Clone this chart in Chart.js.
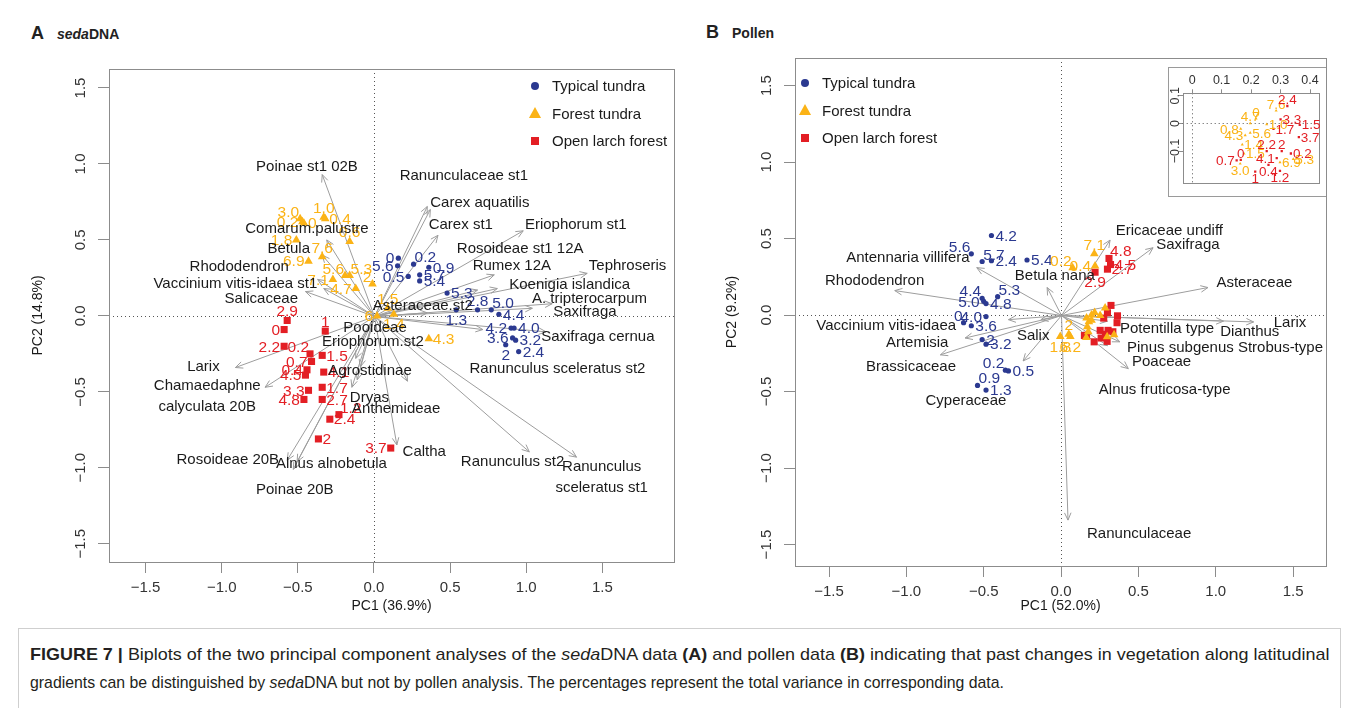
<!DOCTYPE html>
<html>
<head>
<meta charset="utf-8">
<title>Figure 7 - PCA biplots</title>
<script src="https://cdn.jsdelivr.net/npm/chart.js@4.4.1/dist/chart.umd.min.js"></script>
<style>
  body { margin:0; width:1358px; height:708px; background:#fff; position:relative; overflow:hidden;
         font-family:"Liberation Sans", Arial, sans-serif; color:#222; }
  canvas { position:absolute; }
  .ttl { position:absolute; font-weight:bold; white-space:nowrap; line-height:20px; }
  .ttl .big { font-size:18px; display:inline-block; width:26px; }
  .ttl .sub { font-size:14px; }
  #cap { position:absolute; left:18px; top:628px; width:1323px; height:100px; border:1px solid #cfcfcf; box-sizing:border-box; }
  .cl { position:absolute; left:11px; white-space:nowrap; font-size:17px; line-height:19px; transform-origin:0 0; color:#231f20; }
  #inframe { position:absolute; left:1168px; top:67px; width:158px; height:130px; border:1px solid #9a9a9a; border-right:none; background:#fff; box-sizing:border-box; }
</style>
</head>
<body>
<div class="ttl" style="left:31px;top:23px"><span class="big">A</span><span class="sub"><i>seda</i>DNA</span></div>
<div class="ttl" style="left:706px;top:22px"><span class="big">B</span><span class="sub">Pollen</span></div>

<canvas id="cA" width="690" height="620" style="left:0;top:0"></canvas>
<canvas id="cB" width="668" height="620" style="left:690px;top:0"></canvas>
<div id="inframe"></div>
<canvas id="cI" width="164" height="128" style="left:1162px;top:67px"></canvas>

<div id="cap">
  <div class="cl" id="c1" style="top:16px"><b>FIGURE 7 |</b> Biplots of the two principal component analyses of the <i>seda</i>DNA data <b>(A)</b> and pollen data <b>(B)</b> indicating that past changes in vegetation along latitudinal</div>
  <div class="cl" id="c2" style="top:44px">gradients can be distinguished by <i>seda</i>DNA but not by pollen analysis. The percentages represent the total variance in corresponding data.</div>
</div>

<script>
// ---------- shared ----------
const groupNames = ['Typical tundra', 'Forest tundra', 'Open larch forest'];
const axisTicks = [-1.5, -1.0, -0.5, 0, 0.5, 1.0, 1.5];
const insetXTicks = [0, 0.1, 0.2, 0.3, 0.4];
const insetYTicks = [-0.1, 0, 0.1];
// label side codes: 1 below, 2 left, 3 above, 4 right, 5 above-right, 6 above-left

// ---------- A: sedaDNA ----------
const A_xlim = [-1.74, 1.97], A_ylim = [-1.62, 1.625];

const A_tundra_lab = ['0','0.2','0.9','5.6','5.7','0.5','5.4','5.3','1.3','2.8','5.0','4.4','4.2','4.0','3.6','3.2','2','2.4'];
const A_tundra_x = [0.16,0.26,0.36,0.155,0.30,0.225,0.30,0.48,0.54,0.68,0.77,0.82,0.90,0.92,0.91,0.93,0.865,0.95];
const A_tundra_y = [0.38,0.34,0.32,0.33,0.27,0.26,0.23,0.15,0.04,0.04,0.04,0.01,-0.08,-0.08,-0.145,-0.16,-0.19,-0.235];
const A_tundra_pos = [2,5,4,2,4,2,4,4,1,3,5,4,2,4,2,4,1,4];

const A_forest_lab = ['3.0','1.0','0.2','0','0.4','0.6','1.8','7.6','6.9','5.6','5.3','7.1','2','4.7','1.5','6','1.4','4.3'];
const A_forest_x = [-0.485,-0.33,-0.47,-0.46,-0.32,-0.16,-0.51,-0.34,-0.43,-0.19,-0.16,-0.27,-0.01,-0.12,0.09,0.02,0.13,0.36];
const A_forest_y = [0.64,0.65,0.62,0.61,0.64,0.49,0.50,0.39,0.36,0.265,0.265,0.24,0.21,0.18,0.05,0.0,0.01,-0.15];
const A_forest_pos = [6,3,2,4,4,3,2,3,2,6,5,2,6,2,3,2,1,4];

const A_larch_lab = ['2.9','0','1','2.2','0.2','1.5','0.7','0.4','4.1','4.5','1.7','3.3','4.8','2.7','1.2','2.4','2','3.7'];
const A_larch_x = [-0.57,-0.59,-0.32,-0.59,-0.42,-0.34,-0.41,-0.44,-0.33,-0.45,-0.34,-0.43,-0.46,-0.34,-0.23,-0.29,-0.365,0.11];
const A_larch_y = [-0.03,-0.09,-0.10,-0.20,-0.25,-0.26,-0.30,-0.355,-0.37,-0.39,-0.47,-0.49,-0.55,-0.55,-0.65,-0.68,-0.81,-0.87];
const A_larch_pos = [3,2,3,2,6,4,2,2,4,2,4,2,2,4,5,4,4,2];

const A_species = ['Poinae st1 02B','Ranunculaceae st1','Carex aquatilis','Carex st1','Eriophorum st1','Rosoideae st1 12A',
  'Rumex 12A','Tephroseris','Koenigia islandica','A. tripterocarpum','Saxifraga','Saxifraga cernua','Ranunculus sceleratus st2',
  'Ranunculus st2','Ranunculus\nsceleratus st1','Caltha','Alnus alnobetula','Rosoideae 20B','Poinae 20B','Larix',
  'Chamaedaphne\ncalyculata 20B','Agrostidinae','Dryas','Anthemideae','Pooideae','Eriophorum.st2','Asteraceae.st2',
  'Comarum.palustre','Betula','Rhododendron','Vaccinium vitis-idaea st1','Salicaceae'];
const A_tip_x = [-0.34,0.35,0.37,0.42,0.98,0.79,0.68,1.40,0.81,1.17,1.04,1.13,0.715,1.02,1.33,0.15,-0.505,-0.57,-0.53,-0.91,
  -0.715,-0.11,-0.145,0.22,-0.12,-0.09,0.35,-0.31,-0.34,-0.37,-0.33,-0.45];
const A_tip_y = [0.93,0.72,0.70,0.53,0.56,0.27,0.17,0.28,0.18,0.08,0.05,-0.105,-0.09,-0.895,-0.93,-0.85,-0.96,-0.95,-1.01,-0.34,
  -0.47,-0.42,-0.47,-0.43,-0.28,-0.335,0.02,0.50,0.40,0.24,0.18,0.16];
const A_lab_x = [-0.44,0.59,0.695,0.57,1.325,0.96,0.905,1.665,1.285,1.415,1.385,1.47,1.205,0.91,1.495,0.33,-0.28,-0.96,-0.52,-1.12,
  -1.095,-0.026,-0.03,0.145,0.007,-0.007,0.32,-0.44,-0.56,-0.885,-0.91,-0.74];
const A_lab_y = [0.99,0.93,0.75,0.605,0.605,0.45,0.335,0.335,0.21,0.12,0.03,-0.13,-0.34,-0.955,-1.056,-0.89,-0.97,-0.94,-1.14,-0.33,
  -0.526,-0.355,-0.53,-0.605,-0.07,-0.165,0.07,0.58,0.45,0.33,0.22,0.12];

// ---------- B: pollen ----------
const B_xlim = [-1.72, 1.713], B_ylim = [-1.64, 1.68];

const B_tundra_lab = ['4.2','5.6','5.7','2.4','5.4','5.3','4.4','5.0','4.8','4.0','0','3.6','2','3.2','0.2','0.5','0.9','1.3'];
const B_tundra_x = [-0.45,-0.58,-0.51,-0.45,-0.22,-0.41,-0.51,-0.50,-0.485,-0.485,-0.63,-0.58,-0.51,-0.485,-0.36,-0.34,-0.54,-0.485];
const B_tundra_y = [0.52,0.40,0.35,0.355,0.36,0.12,0.11,0.09,0.075,-0.01,-0.05,-0.07,-0.16,-0.19,-0.36,-0.365,-0.46,-0.49];
const B_tundra_pos = [4,6,5,4,4,5,6,2,4,2,6,4,4,4,6,4,5,4];

// forest tundra samples outside the zoomed cluster
const B_forest_lab = ['7.1','0.2','0.4','2','1.8','6.2'];
const B_forest_x = [0.215,0.075,0.22,0.05,-0.005,0.06];
const B_forest_y = [0.40,0.31,0.32,-0.125,-0.14,-0.14];
const B_forest_pos = [3,6,2,3,1,1];
// forest tundra samples in the cluster (labelled in the inset)
const B_forestC_lab = ['7.6','0','4.7','1.0','0.8','5.6','4.3','1.4','1.5','6.9','5.3','3.0'];
const B_forestC_x = [0.285,0.217,0.197,0.253,0.165,0.197,0.18,0.17,0.176,0.298,0.343,0.163];
const B_forestC_y = [0.046,0.017,0.0,-0.003,-0.02,-0.034,-0.043,-0.077,-0.109,-0.141,-0.129,-0.146];
const B_forestC_pos = [3,3,3,4,2,4,2,4,4,4,4,1];

const B_larch_lab = ['4.8','4.5','2.7','2.9'];
const B_larch_x = [0.31,0.32,0.30,0.22];
const B_larch_y = [0.37,0.33,0.30,0.28];
const B_larch_pos = [5,4,4,1];
const B_larchC_lab = ['2.4','3.3','1.5','1.7','3.7','2.2','2','0.2','4.1','0.4','0','0.7','1','1.2'];
const B_larchC_x = [0.323,0.30,0.365,0.276,0.362,0.253,0.304,0.335,0.287,0.259,0.165,0.151,0.214,0.298];
const B_larchC_y = [0.063,0.015,-0.005,-0.02,-0.05,-0.10,-0.10,-0.109,-0.126,-0.15,-0.132,-0.134,-0.175,-0.172];
const B_larchC_pos = [3,4,4,4,4,3,3,4,2,1,3,2,1,1];

const B_species = ['Ericaceae undiff','Saxifraga','Asteraceae','Larix','Dianthus','Potentilla type','Pinus subgenus Strobus-type',
  'Poaceae','Alnus fruticosa-type','Betula nana','Salix','Ranunculaceae','Antennaria villifera','Rhododendron',
  'Vaccinium vitis-idaea','Artemisia','Brassicaceae','Cyperaceae'];
const B_tip_x = [0.317,0.595,0.95,1.245,1.05,0.30,0.38,0.435,0.30,-0.09,-0.13,0.045,-0.545,-1.075,-0.34,-0.62,-0.78,-0.245];
const B_tip_y = [0.49,0.44,0.18,-0.045,-0.04,-0.04,-0.175,-0.35,-0.20,0.18,-0.03,-1.34,0.31,0.16,-0.03,-0.15,-0.26,-0.30];
const B_lab_x = [0.70,0.82,1.25,1.48,1.22,0.685,1.06,0.65,0.67,-0.04,-0.18,0.505,-0.99,-1.205,-1.13,-0.93,-0.97,-0.615];
const B_lab_y = [0.56,0.465,0.215,-0.045,-0.10,-0.085,-0.205,-0.30,-0.48,0.265,-0.13,-1.425,0.38,0.23,-0.065,-0.175,-0.335,-0.555];

const A_pc = ['PC1 (36.9%)', 'PC2 (14.8%)'];
const B_pc = ['PC1 (52.0%)', 'PC2 (9.2%)'];

// ---------- drawing ----------
const COL = ['#2b3990', '#fbb316', '#e31e24'];
const STYLE = ['circle', 'triangle', 'rect'];
const FONT = '"Liberation Sans", Arial, sans-serif';

Chart.defaults.font.family = FONT;
Chart.defaults.color = '#333';

function fmt(v) { return (v < 0 ? '\u2212' : '') + Math.abs(v).toFixed(1); }
function fmtInset(v) { return v === 0 ? '0' : (v < 0 ? '\u2212' : '') + String(Math.abs(v)); }

function ds(g, xs, ys, labs, pos, r) {
  return {
    data: xs.map((x, i) => ({ x: x, y: ys[i] })),
    pointStyle: STYLE[g], pointRadius: r[g], backgroundColor: COL[g], borderColor: COL[g],
    borderWidth: 0, labs: labs, pos: pos
  };
}

function drawMarker(ctx, g, x, y, s) {
  ctx.fillStyle = COL[g];
  ctx.beginPath();
  if (g === 0) ctx.arc(x, y, s * 0.5, 0, Math.PI * 2);
  else if (g === 1) { ctx.moveTo(x, y - s * 0.6); ctx.lineTo(x + s * 0.55, y + s * 0.4); ctx.lineTo(x - s * 0.55, y + s * 0.4); ctx.closePath(); }
  else ctx.rect(x - s / 2, y - s / 2, s, s);
  ctx.fill();
}

function sampleLabel(ctx, t, px, py, pos, off) {
  switch (pos) {
    case 1: ctx.textAlign = 'center'; ctx.textBaseline = 'top'; ctx.fillText(t, px, py + off - 1); break;
    case 2: ctx.textAlign = 'right'; ctx.textBaseline = 'middle'; ctx.fillText(t, px - off, py + 1); break;
    case 3: ctx.textAlign = 'center'; ctx.textBaseline = 'alphabetic'; ctx.fillText(t, px, py - off); break;
    case 5: ctx.textAlign = 'left'; ctx.textBaseline = 'alphabetic'; ctx.fillText(t, px + 1, py - 2); break;
    case 6: ctx.textAlign = 'right'; ctx.textBaseline = 'alphabetic'; ctx.fillText(t, px - 1, py - 2); break;
    default: ctx.textAlign = 'left'; ctx.textBaseline = 'middle'; ctx.fillText(t, px + off, py + 1);
  }
}

const biplot = {
  id: 'biplot',
  beforeDatasetsDraw(chart, args, o) {
    const { ctx, chartArea: a, scales: { x, y } } = chart;
    const x0 = Math.round(x.getPixelForValue(0)) + 0.5, y0 = Math.round(y.getPixelForValue(0)) + 0.5;
    ctx.save();
    ctx.strokeStyle = '#555'; ctx.lineWidth = 1; ctx.setLineDash([1, 3]);
    ctx.beginPath();
    ctx.moveTo(x0, a.top); ctx.lineTo(x0, a.bottom);
    ctx.moveTo(a.left, y0); ctx.lineTo(a.right, y0);
    ctx.stroke();
    ctx.setLineDash([]);
    if (o.arrows) {
      const ar = o.arrows;
      ctx.strokeStyle = '#9d9d9d';
      ar.tx.forEach((tx, i) => {
        const px = x.getPixelForValue(tx), py = y.getPixelForValue(ar.ty[i]);
        const ang = Math.atan2(py - y0, px - x0), h = 8;
        ctx.beginPath();
        ctx.moveTo(x0, y0); ctx.lineTo(px, py);
        ctx.moveTo(px - h * Math.cos(ang - 0.42), py - h * Math.sin(ang - 0.42));
        ctx.lineTo(px, py);
        ctx.lineTo(px - h * Math.cos(ang + 0.42), py - h * Math.sin(ang + 0.42));
        ctx.stroke();
      });
    }
    ctx.restore();
  },
  afterDatasetsDraw(chart, args, o) {
    const { ctx, chartArea: a, scales: { x, y } } = chart;
    ctx.save();
    // plot box
    ctx.strokeStyle = '#8c8c8c'; ctx.lineWidth = 1;
    ctx.strokeRect(Math.round(a.left) + 0.5, Math.round(a.top) + 0.5, Math.round(a.right - a.left), Math.round(a.bottom - a.top));

    // sample labels
    ctx.font = o.ptFont;
    chart.data.datasets.forEach(d => {
      if (!d.labs) return;
      ctx.fillStyle = d.backgroundColor;
      d.data.forEach((p, i) => {
        sampleLabel(ctx, d.labs[i], x.getPixelForValue(p.x), y.getPixelForValue(p.y), d.pos[i], o.off);
      });
    });

    // species labels
    if (o.arrows) {
      const ar = o.arrows;
      ctx.font = o.spFont; ctx.fillStyle = '#1a1a1a'; ctx.textAlign = 'center'; ctx.textBaseline = 'middle';
      ar.names.forEach((n, i) => {
        const lines = n.split('\n');
        const px = x.getPixelForValue(ar.lx[i]), py = y.getPixelForValue(ar.ly[i]);
        lines.forEach((t, k) => ctx.fillText(t, px, py + 1 + (k - (lines.length - 1) / 2) * 21));
      });
    }

    // rotated y tick labels
    ctx.font = o.yFont; ctx.fillStyle = '#333'; ctx.textAlign = 'center'; ctx.textBaseline = 'middle';
    o.yTicks.forEach(v => {
      ctx.save();
      ctx.translate(a.left - o.yOff, y.getPixelForValue(v));
      ctx.rotate(-Math.PI / 2);
      ctx.fillText(o.yFmt(v), 0, 0);
      ctx.restore();
    });

    // legend
    if (o.legend) {
      const L = o.legend;
      ctx.font = '15px ' + FONT; ctx.textAlign = 'left'; ctx.textBaseline = 'middle';
      groupNames.forEach((n, g) => {
        const lx = a[L.side] + L.dx, ly = a.top + L.dy + g * 27.5;
        drawMarker(ctx, g, lx, ly, [8, 11, 8][g]);
        ctx.fillStyle = '#1a1a1a';
        ctx.fillText(n, lx + 17, ly + 1);
      });
    }
    ctx.restore();
  }
};

function xAxis(lim, ticks, title, h, extra) {
  return Object.assign({
    type: 'linear', position: 'bottom', min: lim[0], max: lim[1],
    afterBuildTicks: s => { s.ticks = ticks.map(v => ({ value: v })); },
    afterFit: s => { s.height = h; },
    ticks: { autoSkip: false, maxRotation: 0, minRotation: 0, padding: 6, color: '#333', font: { size: 15 }, callback: v => fmt(v) },
    grid: { drawOnChartArea: false, drawTicks: true, tickLength: 11, color: '#8c8c8c' },
    border: { display: false },
    title: { display: !!title, text: title, color: '#1a1a1a', font: { size: 14 }, padding: { top: 0, bottom: 5 } }
  }, extra || {});
}

function yAxis(lim, ticks, title, w, tpad, extra) {
  return Object.assign({
    type: 'linear', min: lim[0], max: lim[1],
    afterBuildTicks: s => { s.ticks = ticks.map(v => ({ value: v })); },
    afterFit: s => { s.width = w; },
    ticks: { autoSkip: false, color: 'rgba(0,0,0,0)', font: { size: 14 } },
    grid: { drawOnChartArea: false, drawTicks: true, tickLength: 11, color: '#8c8c8c' },
    border: { display: false },
    title: { display: !!title, text: title, color: '#1a1a1a', font: { size: 14 }, padding: { top: tpad, bottom: 0 } }
  }, extra || {});
}

const baseOpts = { responsive: false, animation: false, devicePixelRatio: 1, events: [] };
const R_MAIN = [2.6, 5, 5];

// Panel A
new Chart(document.getElementById('cA'), {
  type: 'scatter',
  data: { datasets: [
    ds(0, A_tundra_x, A_tundra_y, A_tundra_lab, A_tundra_pos, R_MAIN),
    ds(1, A_forest_x, A_forest_y, A_forest_lab, A_forest_pos, R_MAIN),
    ds(2, A_larch_x, A_larch_y, A_larch_lab, A_larch_pos, R_MAIN)
  ] },
  options: Object.assign({}, baseOpts, {
    layout: { padding: { top: 69, right: 16, left: 0, bottom: 0 } },
    plugins: {
      legend: { display: false }, tooltip: { enabled: false },
      biplot: {
        arrows: { names: A_species, tx: A_tip_x, ty: A_tip_y, lx: A_lab_x, ly: A_lab_y },
        ptFont: '15.5px ' + FONT, spFont: '15px ' + FONT, off: 4,
        yTicks: axisTicks, yOff: 28, yFont: '15px ' + FONT, yFmt: fmt,
        legend: { side: 'right', dx: -139, dy: 17 }
      }
    },
    scales: { x: xAxis(A_xlim, axisTicks, A_pc[0], 58), y: yAxis(A_ylim, axisTicks, A_pc[1], 109, 30) }
  }),
  plugins: [biplot]
});

// Panel B
new Chart(document.getElementById('cB'), {
  type: 'scatter',
  data: { datasets: [
    ds(0, B_tundra_x, B_tundra_y, B_tundra_lab, B_tundra_pos, R_MAIN),
    ds(1, B_forest_x, B_forest_y, B_forest_lab, B_forest_pos, R_MAIN),
    ds(1, B_forestC_x, B_forestC_y, null, null, R_MAIN),
    ds(2, B_larch_x, B_larch_y, B_larch_lab, B_larch_pos, R_MAIN),
    ds(2, B_larchC_x, B_larchC_y, null, null, R_MAIN)
  ] },
  options: Object.assign({}, baseOpts, {
    layout: { padding: { top: 58, right: 32, left: 0, bottom: 0 } },
    plugins: {
      legend: { display: false }, tooltip: { enabled: false },
      biplot: {
        arrows: { names: B_species, tx: B_tip_x, ty: B_tip_y, lx: B_lab_x, ly: B_lab_y },
        ptFont: '15.5px ' + FONT, spFont: '15px ' + FONT, off: 4,
        yTicks: axisTicks, yOff: 28, yFont: '15px ' + FONT, yFmt: fmt,
        legend: { side: 'left', dx: 10, dy: 25 }
      }
    },
    scales: { x: xAxis(B_xlim, axisTicks, B_pc[0], 54), y: yAxis(B_ylim, axisTicks, B_pc[1], 105, 34) }
  }),
  plugins: [biplot]
});

// Inset: zoom on the dense cluster of panel B
const insetX = xAxis([-0.032, 0.428], insetXTicks, '', 26.3, { position: 'top' });
insetX.ticks = { autoSkip: false, maxRotation: 0, minRotation: 0, padding: 1, color: '#333', font: { size: 12.5 }, callback: v => fmtInset(v) };
insetX.grid = { drawOnChartArea: false, drawTicks: true, tickLength: 4, color: '#8c8c8c' };
const insetY = yAxis([-0.218, 0.109], insetYTicks, '', 20.7, 0);
insetY.grid = { drawOnChartArea: false, drawTicks: true, tickLength: 4, color: '#8c8c8c' };

new Chart(document.getElementById('cI'), {
  type: 'scatter',
  data: { datasets: [
    ds(1, B_forestC_x, B_forestC_y, B_forestC_lab, B_forestC_pos, [1.5, 1.8, 1.6]),
    ds(2, B_larchC_x, B_larchC_y, B_larchC_lab, B_larchC_pos, [1.5, 1.8, 1.6])
  ] },
  options: Object.assign({}, baseOpts, {
    layout: { padding: { top: 0, right: 7.7, left: 0, bottom: 6.7 } },
    plugins: {
      legend: { display: false }, tooltip: { enabled: false },
      biplot: { ptFont: '13.5px ' + FONT, off: 2, yTicks: insetYTicks, yOff: 7, yFont: '12.5px ' + FONT, yFmt: fmtInset }
    },
    scales: { x: insetX, y: insetY }
  }),
  plugins: [biplot]
});

// caption lines: fit narrow typeface widths
[['c1', 1300], ['c2', 974]].forEach(([id, w]) => {
  const el = document.getElementById(id);
  el.style.transform = 'scaleX(' + (w / el.offsetWidth) + ')';
});
</script>
</body>
</html>
